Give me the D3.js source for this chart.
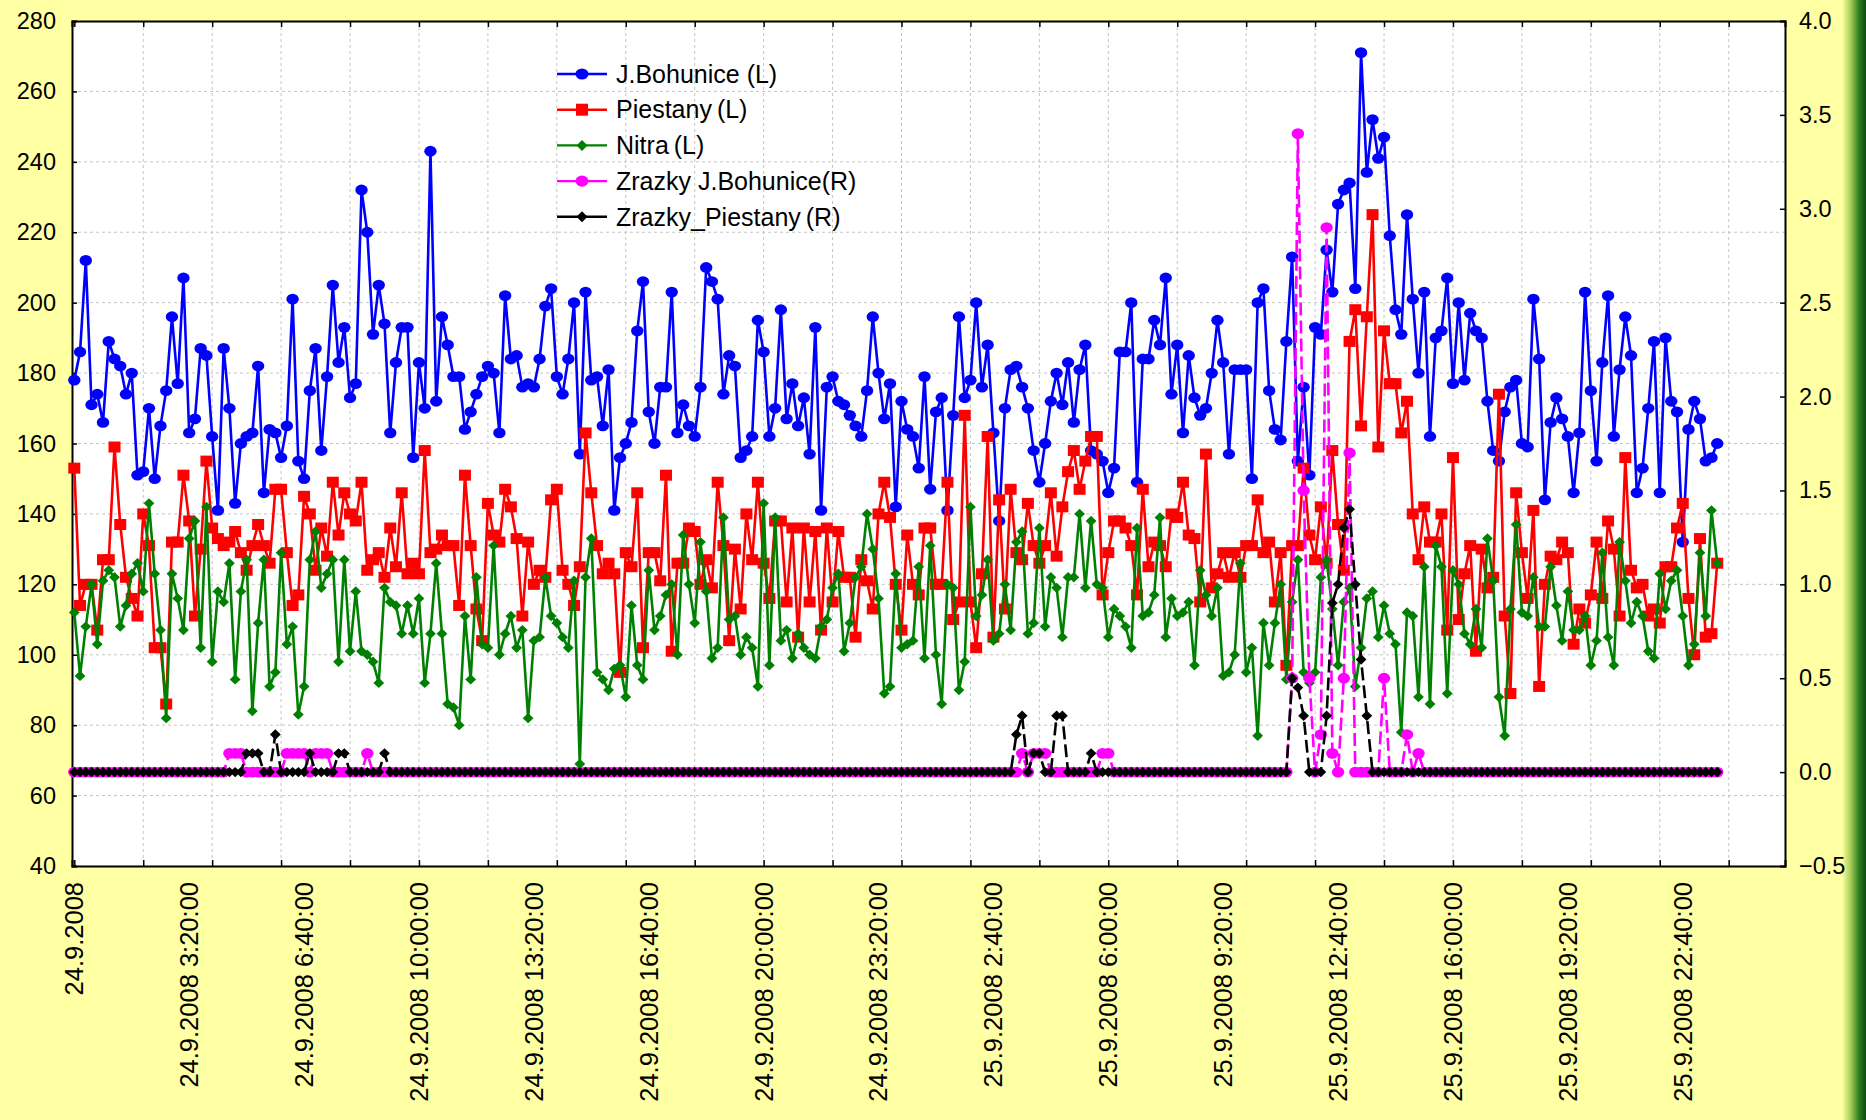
<!DOCTYPE html>
<html><head><meta charset="utf-8">
<script src="https://cdn.jsdelivr.net/npm/d3@7"></script>
<style>
body{margin:0;background:#ffffa4;}
svg{display:block;font-family:"Liberation Sans",Arial,sans-serif;}
</style></head><body>
<svg id="chart" width="1866" height="1120"></svg>
<script>
// 10 minute readings, 24.9.2008 0:00 ... 25.9.2008 23:40
const bohunice = [
178,186,212,171,174,166,189,184,182,174,180,151,152,170,150,165,175,196,177,207,163,167,187,
185,162,141,187,170,143,160,162,163,182,146,164,163,156,165,201,155,150,175,187,158,179,205,183,193,
173,177,232,220,191,205,194,163,183,193,193,156,183,170,243,172,196,188,179,179,164,169,174,179,
182,180,163,202,184,185,176,177,176,184,199,204,179,174,184,200,157,203,178,179,165,181,141,156,
160,166,192,206,169,160,176,176,203,163,171,165,162,176,210,206,201,174,185,182,156,158,162,195,
186,162,170,198,167,177,165,173,157,193,141,176,179,172,171,168,165,162,175,196,180,167,177,142,
172,164,162,153,179,147,169,173,141,168,196,173,178,200,176,188,163,138,170,181,182,176,170,158,
149,160,172,180,171,183,166,181,188,158,157,155,146,153,186,186,200,149,184,184,195,188,207,174,
188,163,185,173,168,170,180,195,183,157,181,181,181,150,200,204,175,164,161,189,213,155,176,151,
193,191,215,203,228,232,234,204,271,237,252,241,247,219,198,191,225,201,180,203,162,190,192,
207,177,200,178,197,192,190,172,158,155,169,176,178,160,159,201,184,144,166,173,167,162,146,163,203,
175,155,183,202,162,181,196,185,146,153,170,189,146,190,172,169,132,164,172,167,155,156,160];

const piestany = [
153,114,120,120,107,127,127,159,137,122,116,111,140,131,102,102,86,132,132,151,138,111,130,
155,136,133,131,132,135,129,124,131,137,131,126,147,147,129,114,117,145,140,124,136,128,149,134,146,
140,138,149,124,127,129,122,136,125,146,123,126,123,158,129,130,134,131,131,114,151,131,113,104,
143,134,132,147,142,133,111,132,120,124,122,144,147,124,120,114,125,163,146,131,123,126,123,95,
129,125,146,102,129,129,121,151,101,126,126,136,135,120,127,119,149,131,104,130,113,140,127,149,
126,116,138,138,115,136,105,136,115,135,107,136,115,135,122,122,105,127,121,113,140,149,139,120,
107,134,120,117,136,136,120,120,149,110,115,168,115,102,123,162,105,144,113,147,129,127,
143,131,126,131,146,128,142,152,158,147,155,162,162,117,129,138,138,136,131,117,147,125,132,131,125,140,
139,149,134,133,115,157,119,123,129,122,129,122,131,131,144,129,132,115,129,97,131,131,153,134,
127,142,126,158,137,124,189,198,165,196,225,159,192,177,177,163,172,140,127,142,132,132,140,107,
156,110,123,131,101,130,119,122,174,111,89,146,129,116,141,91,120,128,127,132,129,103,113,
109,117,132,116,138,130,111,156,124,119,120,111,113,109,125,125,136,143,116,100,133,105,106,126];

const nitra = [
112,94,108,120,103,121,124,122,108,114,123,126,118,143,123,107,82,123,116,107,133,138,102,
142,98,118,115,126,93,118,127,84,109,127,91,95,129,103,108,83,91,127,135,119,123,127,98,127,
101,118,101,100,98,92,119,115,114,106,114,106,116,92,106,126,106,86,85,80,111,93,122,103,
102,131,100,106,111,102,107,82,104,105,122,111,109,105,102,121,69,122,133,95,93,90,96,97,
88,114,97,93,124,107,111,117,120,100,134,120,109,132,118,99,102,139,110,111,100,105,102,91,
143,97,139,104,107,99,106,102,100,99,108,110,119,123,101,109,122,125,140,130,116,89,91,123,
102,103,104,125,99,131,100,86,120,119,90,98,142,111,117,127,104,106,120,107,132,135,106,109,
136,108,122,119,105,122,122,140,119,138,120,119,105,113,111,108,102,136,111,112,117,139,105,116,111,
112,115,97,124,117,111,119,94,95,100,126,95,102,77,109,97,109,120,93,115,127,95,92,
95,122,127,113,97,115,119,91,102,116,118,105,114,106,103,78,112,111,88,125,86,131,125,89,
124,120,106,103,113,102,133,121,88,77,113,137,112,111,122,108,108,125,114,104,118,107,107,111,
97,104,129,105,97,132,121,109,115,111,101,99,123,113,121,124,111,97,103,129,111,141,126];

// precipitation (right axis), 12 readings per row
const zrazkyBohunice = [
0,0,0,0,0,0,0,0,0,0,0,0,
0,0,0,0,0,0,0,0,0,0,0,0,
0,0,0,.1,.1,.1,0,0,0,0,0,0,
0,.1,.1,.1,.1,0,.1,.1,.1,0,0,0,
0,0,0,.1,0,0,0,0,0,0,0,0,
0,0,0,0,0,0,0,0,0,0,0,0,
0,0,0,0,0,0,0,0,0,0,0,0,
0,0,0,0,0,0,0,0,0,0,0,0,
0,0,0,0,0,0,0,0,0,0,0,0,
0,0,0,0,0,0,0,0,0,0,0,0,
0,0,0,0,0,0,0,0,0,0,0,0,
0,0,0,0,0,0,0,0,0,0,0,0,
0,0,0,0,0,0,0,0,0,0,0,0,
0,0,0,0,0,0,0,0,0,.1,0,.1,
.1,.1,0,0,0,0,0,0,0,0,0,.1,
.1,0,0,0,0,0,0,0,0,0,0,0,
0,0,0,0,0,0,0,0,0,0,0,0,
0,0,0,0,0,0,0,0,.5,3.4,1.5,.5,
0,.2,2.9,.1,0,.5,1.7,0,0,0,0,0,
.5,0,0,0,.2,0,.1,0,0,0,0,0,
0,0,0,0,0,0,0,0,0,0,0,0,
0,0,0,0,0,0,0,0,0,0,0,0,
0,0,0,0,0,0,0,0,0,0,0,0,
0,0,0,0,0,0,0,0,0,0,0];

const zrazkyPiestany = [
0,0,0,0,0,0,0,0,0,0,0,0,
0,0,0,0,0,0,0,0,0,0,0,0,
0,0,0,0,0,0,.1,.1,.1,0,0,.2,
0,0,0,0,0,.1,0,0,0,0,.1,.1,
0,0,0,0,0,0,.1,0,0,0,0,0,
0,0,0,0,0,0,0,0,0,0,0,0,
0,0,0,0,0,0,0,0,0,0,0,0,
0,0,0,0,0,0,0,0,0,0,0,0,
0,0,0,0,0,0,0,0,0,0,0,0,
0,0,0,0,0,0,0,0,0,0,0,0,
0,0,0,0,0,0,0,0,0,0,0,0,
0,0,0,0,0,0,0,0,0,0,0,0,
0,0,0,0,0,0,0,0,0,0,0,0,
0,0,0,0,0,0,0,0,.2,.3,0,.1,
.1,0,0,.3,.3,0,0,0,0,.1,0,0,
0,0,0,0,0,0,0,0,0,0,0,0,
0,0,0,0,0,0,0,0,0,0,0,0,
0,0,0,0,0,0,0,0,.5,.45,.3,0,
0,0,.3,.9,1.0,1.3,1.4,1.0,.6,.3,0,0,
0,0,0,0,0,0,0,0,0,0,0,0,
0,0,0,0,0,0,0,0,0,0,0,0,
0,0,0,0,0,0,0,0,0,0,0,0,
0,0,0,0,0,0,0,0,0,0,0,0,
0,0,0,0,0,0,0,0,0,0,0];

const xTickIndex = [0,20,40,60,80,100,120,140,160,180,200,220,240,260,280];
const xTickLabels = ["24.9.2008","24.9.2008 3:20:00","24.9.2008 6:40:00","24.9.2008 10:00:00",
  "24.9.2008 13:20:00","24.9.2008 16:40:00","24.9.2008 20:00:00","24.9.2008 23:20:00",
  "25.9.2008 2:40:00","25.9.2008 6:00:00","25.9.2008 9:20:00","25.9.2008 12:40:00",
  "25.9.2008 16:00:00","25.9.2008 19:20:00","25.9.2008 22:40:00"];
const leftTicks = [40,60,80,100,120,140,160,180,200,220,240,260,280];
const rightTicks = [-0.5,0,0.5,1,1.5,2,2.5,3,3.5,4];
const legendNames = ["J.Bohunice (L)","Piestany\u2009(L)","Nitra\u2009(L)","Zrazky J.Bohunice(R)","Zrazky_Piestany\u2009(R)"];

const plot = {left: 72, right: 1785, top: 21, bottom: 866};
const svg = d3.select("#chart");

// right edge strip
const grad = svg.append("defs").append("linearGradient").attr("id","edge").attr("x1",0).attr("x2",1);
grad.append("stop").attr("offset","0%").attr("stop-color","#ffffa4");
grad.append("stop").attr("offset","35%").attr("stop-color","#a9cf55");
grad.append("stop").attr("offset","70%").attr("stop-color","#2f7d22");
grad.append("stop").attr("offset","100%").attr("stop-color","#0f4a10");
svg.append("rect").attr("width",1866).attr("height",1120).attr("fill","#ffffa4");
svg.append("rect").attr("x",1842).attr("width",24).attr("height",1120).attr("fill","url(#edge)");

const x = d3.scaleLinear().domain([-0.4, 297.8]).range([plot.left, plot.right]);
const yL = d3.scaleLinear().domain([40, 280]).range([plot.bottom, plot.top]);
const yR = d3.scaleLinear().domain([-0.5, 4.0]).range([plot.bottom, plot.top]);

svg.append("rect").attr("x",plot.left).attr("y",plot.top)
  .attr("width",plot.right-plot.left).attr("height",plot.bottom-plot.top).attr("fill","#fff");

const gridIdx = d3.range(0, 289, 12);
const grid = svg.append("g").attr("stroke","#c4c4c4").attr("stroke-width",1).attr("stroke-dasharray","3,3");
grid.selectAll(".h").data(leftTicks.slice(1,-1)).join("line")
  .attr("x1",plot.left).attr("x2",plot.right).attr("y1",d=>yL(d)).attr("y2",d=>yL(d));
grid.selectAll(".v").data(gridIdx.slice(1)).join("line")
  .attr("y1",plot.top).attr("y2",plot.bottom).attr("x1",d=>x(d)).attr("x2",d=>x(d));

// axes
const axisL = svg.append("g").attr("transform",`translate(${plot.left},0)`)
  .call(d3.axisLeft(yL).tickValues(leftTicks).tickSize(-5).tickPadding(16).tickFormat(d3.format("d")));
const axisR = svg.append("g").attr("transform",`translate(${plot.right},0)`)
  .call(d3.axisRight(yR).tickValues(rightTicks).tickSize(-5).tickPadding(14).tickFormat(d3.format(".1f")));
const axisT = svg.append("g").attr("transform",`translate(0,${plot.top})`)
  .call(d3.axisTop(x).tickValues(gridIdx).tickSize(-6).tickFormat(""));
const axisB = svg.append("g").attr("transform",`translate(0,${plot.bottom})`)
  .call(d3.axisBottom(x).tickValues(gridIdx).tickSize(-6).tickFormat(""));
[axisL, axisR, axisT, axisB].forEach(a => {
  a.select(".domain").attr("stroke","#000").attr("stroke-width",2);
  a.selectAll(".tick line").attr("stroke","#000").attr("stroke-width",1.5);
  a.selectAll("text").attr("font-size",23.5).attr("fill","#000").attr("font-family",null);
});

svg.append("g").selectAll("text").data(xTickIndex).join("text")
  .attr("transform", d => `translate(${x(d)},${plot.bottom + 16}) rotate(-90)`)
  .attr("text-anchor","end").attr("dy","0.35em").attr("font-size",25.5)
  .text((d,i) => xTickLabels[i]);

// series
const diamond = (w,h) => `M0,${-h}L${w},0L0,${h}L${-w},0Z`;
function drawSeries(values, y, color, marker, dash) {
  const g = svg.append("g");
  g.append("path").datum(values)
    .attr("d", d3.line().x((d,i)=>x(i)).y(d=>y(d)))
    .attr("fill","none").attr("stroke",color).attr("stroke-width",2.6)
    .attr("stroke-dasharray", dash || null);
  const pts = g.selectAll(".m").data(values).join(marker === "square" ? "rect" : marker === "circle" ? "ellipse" : "path");
  if (marker === "circle") {
    pts.attr("cx",(d,i)=>x(i)).attr("cy",d=>y(d)).attr("rx",6.2).attr("ry",5.4).attr("fill",color);
  } else if (marker === "square") {
    pts.attr("x",(d,i)=>x(i)-6).attr("y",d=>y(d)-5.5).attr("width",12).attr("height",11).attr("fill",color);
  } else {
    pts.attr("d",diamond(5.4,5.2)).attr("transform",(d,i)=>`translate(${x(i)},${y(d)})`).attr("fill",color);
  }
}
drawSeries(bohunice, yL, "#0000ff", "circle");
drawSeries(piestany, yL, "#ff0000", "square");
drawSeries(nitra, yL, "#008000", "diamond");
drawSeries(zrazkyBohunice, yR, "#ff00ff", "circle", "13,5");
drawSeries(zrazkyPiestany, yR, "#000000", "diamond", "13,5");

// legend
const legendColors = ["#0000ff","#ff0000","#008000","#ff00ff","#000000"];
const legendMarks = ["circle","square","diamond","circle","diamond"];
const lg = svg.append("g").attr("transform","translate(557,74)");
legendNames.forEach((name, i) => {
  const row = lg.append("g").attr("transform",`translate(0,${i*35.7})`);
  row.append("line").attr("x1",0).attr("x2",50).attr("stroke",legendColors[i]).attr("stroke-width",2.4);
  if (legendMarks[i] === "circle") row.append("ellipse").attr("cx",25).attr("rx",6.5).attr("ry",5.6).attr("fill",legendColors[i]);
  else if (legendMarks[i] === "square") row.append("rect").attr("x",19).attr("y",-6).attr("width",12).attr("height",12).attr("fill",legendColors[i]);
  else row.append("path").attr("d",diamond(5.5,5.5)).attr("transform","translate(25,0)").attr("fill",legendColors[i]);
  row.append("text").attr("x",59).attr("dy","0.35em").attr("font-size",25).text(name);
});
</script>
</body></html>
